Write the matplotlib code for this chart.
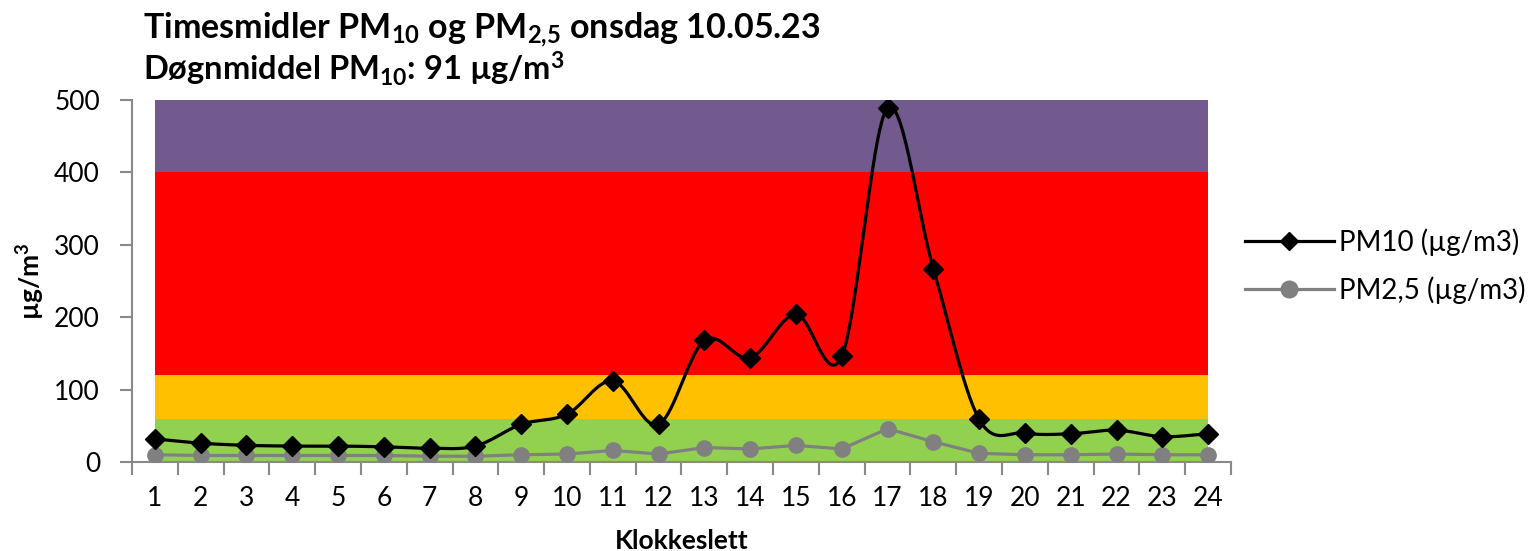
import numpy as np
import matplotlib
matplotlib.use("Agg")
import matplotlib.pyplot as plt
from matplotlib.lines import Line2D

hours = list(range(1, 25))
pm10 = [32, 26, 23, 22, 22, 21, 19, 22, 52, 66, 112, 52, 168, 144, 204, 146, 489, 267, 59, 40, 39, 44, 35, 39]
pm25 = [10, 9, 9, 9, 9, 9, 8, 8, 10, 11, 16, 11, 20, 18, 23, 18, 46, 28, 12, 10, 10, 11, 10, 10]
band_limits = [0, 60, 120, 400, 500]
band_colors = ["#92D050", "#FFC000", "#FF0000", "#725A8F"]
title_line1 = "Timesmidler PM$_{10}$ og PM$_{2{,}5}$ onsdag 10.05.23"
title_line2 = "Døgnmiddel PM$_{10}$: 91 µg/m$^{3}$"
ylabel = "µg/m$^{3}$"
xlabel = "Klokkeslett"
legend_labels = ["PM10 (µg/m3)", "PM2,5 (µg/m3)"]

plt.rcParams['font.family'] = ['Lato', 'DejaVu Sans']
plt.rcParams['mathtext.default'] = 'regular'


def catmull_rom(x, y, n=30):
    x = np.asarray(x, float)
    y = np.asarray(y, float)
    P = np.column_stack([x, y])
    P = np.vstack([2 * P[0] - P[1], P, 2 * P[-1] - P[-2]])
    out = []
    t = np.linspace(0, 1, n, endpoint=False)[:, None]
    for i in range(1, len(P) - 2):
        p0, p1, p2, p3 = P[i - 1], P[i], P[i + 1], P[i + 2]
        m1 = (p2 - p0) / 2
        m2 = (p3 - p1) / 2
        h00 = 2 * t**3 - 3 * t**2 + 1
        h10 = t**3 - 2 * t**2 + t
        h01 = -2 * t**3 + 3 * t**2
        h11 = t**3 - t**2
        out.append(h00 * p1 + h10 * m1 + h01 * p2 + h11 * m2)
    out.append(P[-2][None, :])
    c = np.vstack(out)
    return c[:, 0], c[:, 1]


fig = plt.figure(figsize=(15.39, 5.51), dpi=100)
ax = fig.add_axes([132 / 1539, 1 - 462 / 551, (1231 - 132) / 1539, (462 - 100) / 551])

for lo, hi, col in zip(band_limits[:-1], band_limits[1:], band_colors):
    ax.fill_between([hours[0], hours[-1]], lo, hi, color=col, linewidth=0, zorder=1)

ax.plot(hours, pm25, color="#808080", linewidth=2.3, marker="o", markersize=11,
        zorder=3)
sx, sy = catmull_rom(hours, pm10)
ax.plot(sx, sy, color="black", linewidth=2.3, zorder=4)
ax.plot(hours, pm10, linestyle="none", color="black", marker="D", markersize=10, zorder=5)

ax.set_xlim(0.5, 24.5)
ax.set_ylim(0, 500)
ax.set_yticks([0, 100, 200, 300, 400, 500])
ax.set_xticks(hours)
ax.set_xticklabels([str(h) for h in hours])
ax.set_xticks(np.arange(0.5, 25, 1), minor=True)

for s in ["top", "right"]:
    ax.spines[s].set_visible(False)
for s in ["left", "bottom"]:
    ax.spines[s].set_color("#898989")
    ax.spines[s].set_linewidth(1.5)

ax.tick_params(axis="x", which="major", length=0, pad=17, labelsize=19)
ax.tick_params(axis="x", which="minor", length=9, width=1.5, color="#898989", direction="out")
ax.tick_params(axis="y", length=9, width=1.5, color="#898989", direction="out", labelsize=19, pad=14)

ax.set_xlabel(xlabel, fontsize=19, fontweight="bold", labelpad=13)
ax.set_ylabel(ylabel, fontsize=19, fontweight="bold", labelpad=5)

fig.text(143 / 1539, 1 - 39 / 551, title_line1, fontsize=24.5, fontweight="bold", va="baseline", ha="left")
fig.text(143 / 1539, 1 - 81 / 551, title_line2, fontsize=23.5, fontweight="bold", va="baseline", ha="left")

handles = [
    Line2D([], [], color="black", linewidth=2.3, marker="D", markersize=9),
    Line2D([], [], color="#808080", linewidth=2.3, marker="o", markersize=12),
]
fig.legend(handles, legend_labels, loc="center left", bbox_to_anchor=(1245 / 1539, 1 - 266 / 551),
           frameon=False, fontsize=20, handlelength=3.2, labelspacing=0.72, handletextpad=0.2,
           borderpad=0, borderaxespad=0)

fig.savefig("out.png", dpi=100)
